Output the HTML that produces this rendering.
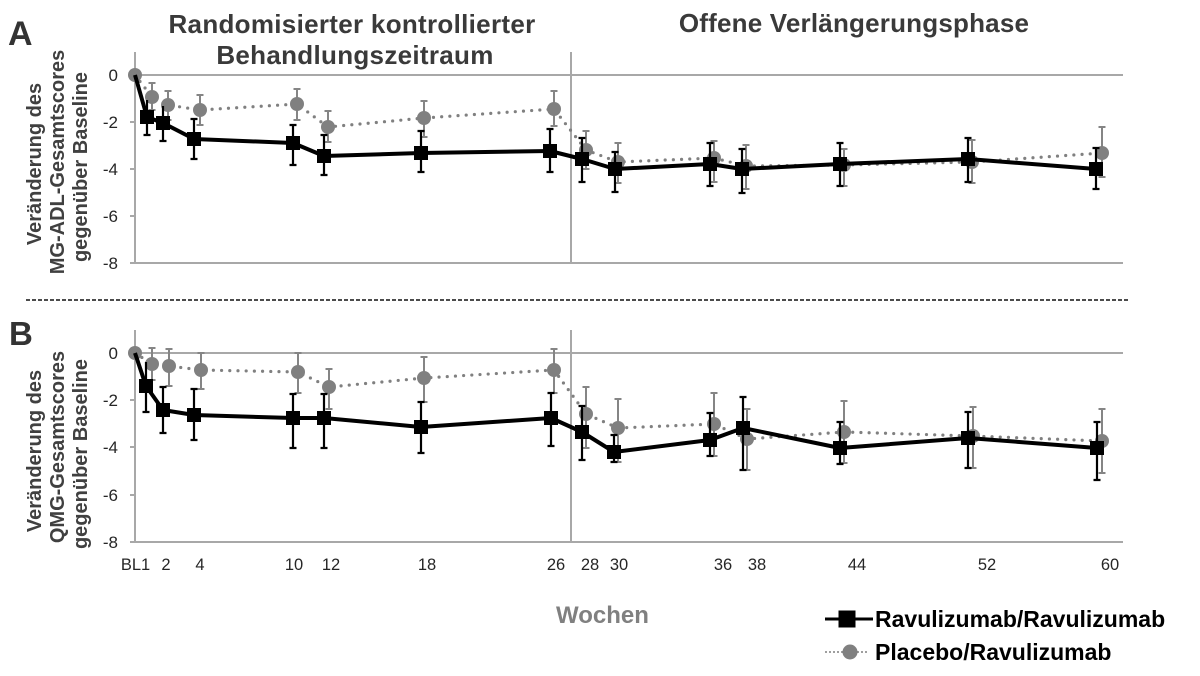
<!DOCTYPE html>
<html><head><meta charset="utf-8"><style>
html,body{margin:0;padding:0;background:#fff;}
svg{display:block;}
text{font-family:"Liberation Sans",Arial,sans-serif;}
</style></head><body>
<svg width="1200" height="676" viewBox="0 0 1200 676" xmlns="http://www.w3.org/2000/svg">
<rect width="1200" height="676" fill="#fff"/>

<!-- Titles -->
<text x="352" y="33" text-anchor="middle" font-size="26" font-weight="bold" fill="#3a3a3a" letter-spacing="0.3">Randomisierter kontrollierter</text>
<text x="355" y="64" text-anchor="middle" font-size="26" font-weight="bold" fill="#3a3a3a" letter-spacing="0.3">Behandlungszeitraum</text>
<text x="854" y="32" text-anchor="middle" font-size="26" font-weight="bold" fill="#3a3a3a" letter-spacing="0.2">Offene Verlängerungsphase</text>

<!-- Panel letters -->
<text x="8" y="45" font-size="34" font-weight="bold" fill="#333">A</text>
<text x="9" y="345" font-size="33" font-weight="bold" fill="#333">B</text>

<!-- Dashed separator -->
<line x1="26" y1="300" x2="1130" y2="300" stroke="#111" stroke-width="1.4" stroke-dasharray="4 2"/>

<!-- ===== Panel A axes ===== -->
<g stroke="#a8a8a8" stroke-width="2" fill="none">
  <line x1="135" y1="52" x2="135" y2="264"/>
  <line x1="130" y1="75" x2="1123" y2="75"/>
  <line x1="130" y1="263" x2="1123" y2="263"/>
  <line x1="571" y1="52" x2="571" y2="263"/>
  <line x1="130" y1="122" x2="135" y2="122"/>
  <line x1="130" y1="169" x2="135" y2="169"/>
  <line x1="130" y1="216" x2="135" y2="216"/>
</g>
<g font-size="17" fill="#262626" text-anchor="end">
  <text x="118" y="81">0</text>
  <text x="118" y="128">-2</text>
  <text x="118" y="175">-4</text>
  <text x="118" y="222">-6</text>
  <text x="118" y="269">-8</text>
</g>
<g font-size="20" font-weight="bold" fill="#404040" text-anchor="middle">
  <text transform="translate(41,164) rotate(-90)">Veränderung des</text>
  <text transform="translate(64,162) rotate(-90)">MG-ADL-Gesamtscores</text>
  <text transform="translate(87,167) rotate(-90)">gegenüber Baseline</text>
</g>

<!-- ===== Panel B axes ===== -->
<g stroke="#a8a8a8" stroke-width="2" fill="none">
  <line x1="135" y1="330" x2="135" y2="543"/>
  <line x1="130" y1="353" x2="1123" y2="353"/>
  <line x1="130" y1="542" x2="1123" y2="542"/>
  <line x1="571" y1="330" x2="571" y2="542"/>
  <line x1="130" y1="400" x2="135" y2="400"/>
  <line x1="130" y1="447" x2="135" y2="447"/>
  <line x1="130" y1="495" x2="135" y2="495"/>
</g>
<g font-size="17" fill="#262626" text-anchor="end">
  <text x="118" y="359">0</text>
  <text x="118" y="406">-2</text>
  <text x="118" y="453">-4</text>
  <text x="118" y="501">-6</text>
  <text x="118" y="548">-8</text>
</g>
<g font-size="20" font-weight="bold" fill="#404040" text-anchor="middle">
  <text transform="translate(41,451) rotate(-90)">Veränderung des</text>
  <text transform="translate(64,447) rotate(-90)">QMG-Gesamtscores</text>
  <text transform="translate(87,454) rotate(-90)">gegenüber Baseline</text>
</g>

<!-- X tick labels -->
<g font-size="16.5" fill="#262626" text-anchor="middle">
  <text x="135.5" y="570">BL1</text>
  <text x="166" y="570">2</text>
  <text x="200" y="570">4</text>
  <text x="294" y="570">10</text>
  <text x="331" y="570">12</text>
  <text x="427" y="570">18</text>
  <text x="556" y="570">26</text>
  <text x="590" y="570">28</text>
  <text x="619" y="570">30</text>
  <text x="723" y="570">36</text>
  <text x="757" y="570">38</text>
  <text x="857" y="570">44</text>
  <text x="987" y="570">52</text>
  <text x="1110" y="570">60</text>
</g>
<text x="556" y="623" font-size="24" font-weight="bold" fill="#808080">Wochen</text>

<!-- ===== Panel A: Placebo (grey) ===== -->
<g stroke="#858585" stroke-width="2" fill="none">
  <path d="M152 83V110M148.5 83H155.5M148.5 110H155.5"/>
  <path d="M168 91V120M164.5 91H171.5M164.5 120H171.5"/>
  <path d="M200 95V125M196.5 95H203.5M196.5 125H203.5"/>
  <path d="M297 89V120M293.5 89H300.5M293.5 120H300.5"/>
  <path d="M328 111V142M324.5 111H331.5M324.5 142H331.5"/>
  <path d="M424 101V137M420.5 101H427.5M420.5 137H427.5"/>
  <path d="M554 91V126M550.5 91H557.5M550.5 126H557.5"/>
  <path d="M586 131V169M582.5 131H589.5M582.5 169H589.5"/>
  <path d="M618 143V183M614.5 143H621.5M614.5 183H621.5"/>
  <path d="M714 141V182M710.5 141H717.5M710.5 182H717.5"/>
  <path d="M746 145V189M742.5 145H749.5M742.5 189H749.5"/>
  <path d="M844 149V186M840.5 149H847.5M840.5 186H847.5"/>
  <path d="M972 140V183M968.5 140H975.5M968.5 183H975.5"/>
  <path d="M1102 127V177M1098.5 127H1105.5M1098.5 177H1105.5"/>
</g>
<polyline fill="none" stroke="#808080" stroke-width="3.2" stroke-linecap="round" stroke-dasharray="0 8.2"
 points="135,75 152,97 168,105 200,110 297,104 328,127 424,118 554,109 586,150 618,162 714,158 746,166 844,165 972,162 1102,153"/>
<g fill="#808080">
  <circle cx="135" cy="75" r="7"/><circle cx="152" cy="97" r="7"/><circle cx="168" cy="105" r="7"/>
  <circle cx="200" cy="110" r="7"/><circle cx="297" cy="104" r="7"/><circle cx="328" cy="127" r="7"/>
  <circle cx="424" cy="118" r="7"/><circle cx="554" cy="109" r="7"/><circle cx="586" cy="150" r="7"/>
  <circle cx="618" cy="162" r="7"/><circle cx="714" cy="158" r="7"/><circle cx="746" cy="166" r="7"/>
  <circle cx="844" cy="165" r="7"/><circle cx="972" cy="162" r="7"/><circle cx="1102" cy="153" r="7"/>
</g>

<!-- ===== Panel A: Ravulizumab (black) ===== -->
<g stroke="#000" stroke-width="2.2" fill="none">
  <path d="M147 100V135M143.5 135H150.5"/>
  <path d="M163 106V141M159.5 141H166.5"/>
  <path d="M194 119V159M190.5 119H197.5M190.5 159H197.5"/>
  <path d="M293 125V165M289.5 125H296.5M289.5 165H296.5"/>
  <path d="M324 135V175M320.5 135H327.5M320.5 175H327.5"/>
  <path d="M421 131V172M417.5 131H424.5M417.5 172H424.5"/>
  <path d="M550 129V172M546.5 129H553.5M546.5 172H553.5"/>
  <path d="M582 138V182M578.5 138H585.5M578.5 182H585.5"/>
  <path d="M615 152V192M611.5 152H618.5M611.5 192H618.5"/>
  <path d="M710 143V186M706.5 143H713.5M706.5 186H713.5"/>
  <path d="M742 149V193M738.5 149H745.5M738.5 193H745.5"/>
  <path d="M840 143V186M836.5 143H843.5M836.5 186H843.5"/>
  <path d="M968 138V182M964.5 138H971.5M964.5 182H971.5"/>
  <path d="M1096 148V189M1092.5 148H1099.5M1092.5 189H1099.5"/>
</g>
<polyline fill="none" stroke="#000" stroke-width="4" stroke-linejoin="round"
 points="135,75 147,117 163,123 194,139 293,143 324,156 421,153 550,151 582,159 615,169 710,164 742,169 840,164 968,159 1096,169"/>
<g fill="#000">
  <rect x="140" y="110" width="14" height="14"/><rect x="156" y="116" width="14" height="14"/>
  <rect x="187" y="132" width="14" height="14"/><rect x="286" y="136" width="14" height="14"/>
  <rect x="317" y="149" width="14" height="14"/><rect x="414" y="146" width="14" height="14"/>
  <rect x="543" y="144" width="14" height="14"/><rect x="575" y="152" width="14" height="14"/>
  <rect x="608" y="162" width="14" height="14"/><rect x="703" y="157" width="14" height="14"/>
  <rect x="735" y="162" width="14" height="14"/><rect x="833" y="157" width="14" height="14"/>
  <rect x="961" y="152" width="14" height="14"/><rect x="1089" y="162" width="14" height="14"/>
</g>

<!-- ===== Panel B: Placebo (grey) ===== -->
<g stroke="#858585" stroke-width="2" fill="none">
  <path d="M152 348V380M148.5 348H155.5M148.5 380H155.5"/>
  <path d="M169 349V386M165.5 349H172.5M165.5 386H172.5"/>
  <path d="M201 353V389M197.5 353H204.5M197.5 389H204.5"/>
  <path d="M298 353V393M294.5 353H301.5M294.5 393H301.5"/>
  <path d="M329 369V409M325.5 369H332.5M325.5 409H332.5"/>
  <path d="M424 357V402M420.5 357H427.5M420.5 402H427.5"/>
  <path d="M554 349V393M550.5 349H557.5M550.5 393H557.5"/>
  <path d="M586 387V448M582.5 387H589.5M582.5 448H589.5"/>
  <path d="M618 399V462M614.5 399H621.5M614.5 462H621.5"/>
  <path d="M714 393V456M710.5 393H717.5M710.5 456H717.5"/>
  <path d="M747 409V470M743.5 409H750.5M743.5 470H750.5"/>
  <path d="M844 401V463M840.5 401H847.5M840.5 463H847.5"/>
  <path d="M973 407V468M969.5 407H976.5M969.5 468H976.5"/>
  <path d="M1102 409V473M1098.5 409H1105.5M1098.5 473H1105.5"/>
</g>
<polyline fill="none" stroke="#808080" stroke-width="3.2" stroke-linecap="round" stroke-dasharray="0 8.2"
 points="135,353 152,364 169,366 201,370 298,372 329,387 424,378 554,370 586,414 618,428 714,424 747,439 844,432 973,436 1102,441"/>
<g fill="#808080">
  <circle cx="135" cy="353" r="7"/><circle cx="152" cy="364" r="7"/><circle cx="169" cy="366" r="7"/>
  <circle cx="201" cy="370" r="7"/><circle cx="298" cy="372" r="7"/><circle cx="329" cy="387" r="7"/>
  <circle cx="424" cy="378" r="7"/><circle cx="554" cy="370" r="7"/><circle cx="586" cy="414" r="7"/>
  <circle cx="618" cy="428" r="7"/><circle cx="714" cy="424" r="7"/><circle cx="747" cy="439" r="7"/>
  <circle cx="844" cy="432" r="7"/><circle cx="973" cy="436" r="7"/><circle cx="1102" cy="441" r="7"/>
</g>

<!-- ===== Panel B: Ravulizumab (black) ===== -->
<g stroke="#000" stroke-width="2.2" fill="none">
  <path d="M146 362V412M142.5 412H149.5"/>
  <path d="M163 387V433M159.5 387H166.5M159.5 433H166.5"/>
  <path d="M194 389V440M190.5 389H197.5M190.5 440H197.5"/>
  <path d="M293 394V448M289.5 394H296.5M289.5 448H296.5"/>
  <path d="M324 394V448M320.5 394H327.5M320.5 448H327.5"/>
  <path d="M421 402V453M417.5 402H424.5M417.5 453H424.5"/>
  <path d="M551 393V446M547.5 393H554.5M547.5 446H554.5"/>
  <path d="M582 406V460M578.5 406H585.5M578.5 460H585.5"/>
  <path d="M614 435V462M610.5 435H617.5M610.5 462H617.5"/>
  <path d="M710 413V456M706.5 413H713.5M706.5 456H713.5"/>
  <path d="M743 397V470M739.5 397H746.5M739.5 470H746.5"/>
  <path d="M840 422V464M836.5 422H843.5M836.5 464H843.5"/>
  <path d="M968 412V468M964.5 412H971.5M964.5 468H971.5"/>
  <path d="M1097 422V480M1093.5 422H1100.5M1093.5 480H1100.5"/>
</g>
<polyline fill="none" stroke="#000" stroke-width="4" stroke-linejoin="round"
 points="135,353 146,386 163,410 194,415 293,418 324,418 421,427 551,418 582,432 614,452 710,440 743,428 840,448 968,438 1097,448"/>
<g fill="#000">
  <rect x="139" y="379" width="14" height="14"/><rect x="156" y="403" width="14" height="14"/>
  <rect x="187" y="408" width="14" height="14"/><rect x="286" y="411" width="14" height="14"/>
  <rect x="317" y="411" width="14" height="14"/><rect x="414" y="420" width="14" height="14"/>
  <rect x="544" y="411" width="14" height="14"/><rect x="575" y="425" width="14" height="14"/>
  <rect x="607" y="445" width="14" height="14"/><rect x="703" y="433" width="14" height="14"/>
  <rect x="736" y="421" width="14" height="14"/><rect x="833" y="441" width="14" height="14"/>
  <rect x="961" y="431" width="14" height="14"/><rect x="1090" y="441" width="14" height="14"/>
</g>

<!-- Legend -->
<line x1="825" y1="619" x2="873" y2="619" stroke="#000" stroke-width="3"/>
<rect x="838.5" y="610.5" width="17" height="17" fill="#000"/>
<text x="875" y="627" font-size="23" font-weight="bold" fill="#000">Ravulizumab/Ravulizumab</text>
<line x1="826" y1="652" x2="870" y2="652" stroke="#808080" stroke-width="2" stroke-linecap="round" stroke-dasharray="0 4"/>
<circle cx="850" cy="652" r="7.5" fill="#808080"/>
<text x="875" y="660" font-size="23" font-weight="bold" fill="#000">Placebo/Ravulizumab</text>
</svg>
</body></html>
